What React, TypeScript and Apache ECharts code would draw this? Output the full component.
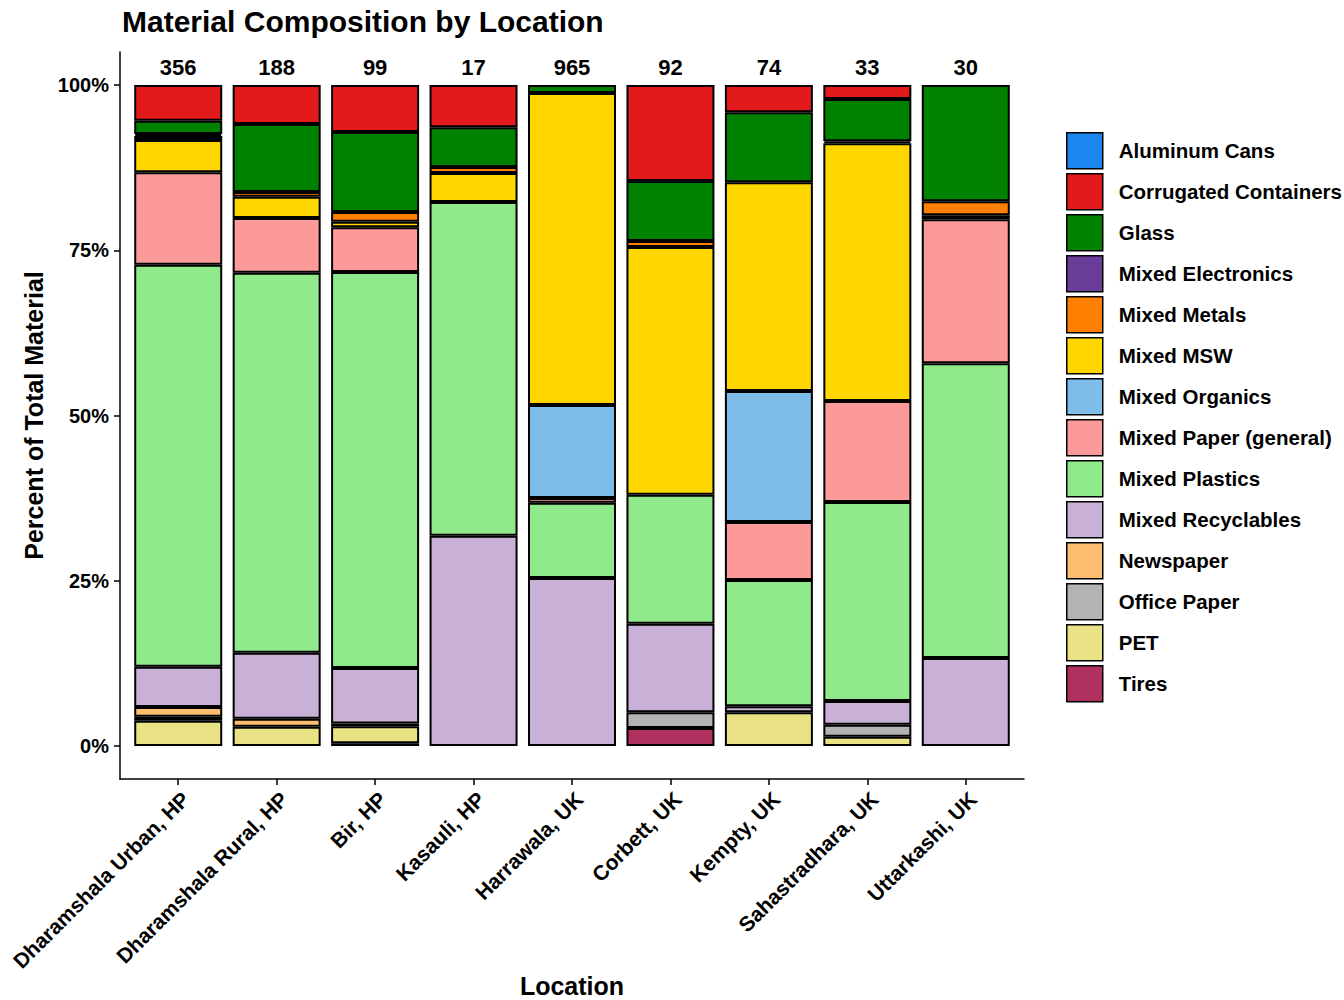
import React, { useEffect, useRef } from "react";
import * as echarts from "echarts";

const locations = [
  "Dharamshala Urban, HP",
  "Dharamshala Rural, HP",
  "Bir, HP",
  "Kasauli, HP",
  "Harrawala, UK",
  "Corbett, UK",
  "Kempty, UK",
  "Sahastradhara, UK",
  "Uttarkashi, UK",
];
const counts = [356, 188, 99, 17, 965, 92, 74, 33, 30];
const yTicks = [0, 25, 50, 75, 100];

// percent of total material per location (same order as locations)
const aluminumCans = [0, 0, 0, 0, 0, 0, 0, 0, 0];
const corrugatedContainers = [5.4, 5.9, 7.1, 6.4, 0, 14.5, 4.1, 2.1, 0];
const glass = [2.0, 10.3, 12.1, 6.0, 1.2, 9.1, 10.6, 6.4, 17.6];
const mixedElectronics = [0.3, 0, 0, 0, 0, 0, 0, 0, 0];
const mixedMetals = [0.6, 0.7, 1.5, 0.9, 0, 0.9, 0, 0.3, 2.1];
const mixedMSW = [4.9, 3.2, 0.8, 4.4, 47.2, 37.5, 31.6, 39.0, 0.6];
const mixedOrganics = [0, 0, 0, 0, 14.1, 0, 19.8, 0, 0];
const mixedPaper = [14.0, 8.3, 6.8, 0, 0.7, 0, 8.8, 15.3, 21.8];
const mixedPlastics = [60.8, 57.5, 59.9, 50.5, 11.4, 19.5, 19.1, 30.1, 44.6];
const mixedRecyclables = [6.1, 10.0, 8.4, 31.8, 25.4, 13.4, 0.9, 3.6, 13.3];
const newspaper = [1.5, 1.2, 0, 0, 0, 0, 0, 0, 0];
const officePaper = [0.6, 0, 0.4, 0, 0, 2.4, 0, 1.8, 0];
const pet = [3.8, 2.9, 2.6, 0, 0, 0, 5.1, 1.4, 0];
const tires = [0, 0, 0.4, 0, 0, 2.7, 0, 0, 0];

const materials = [
  { name: "Aluminum Cans", values: aluminumCans, color: "#1C86EE" },
  { name: "Corrugated Containers", values: corrugatedContainers, color: "#E31A1C" },
  { name: "Glass", values: glass, color: "#008200" },
  { name: "Mixed Electronics", values: mixedElectronics, color: "#6A3D9A" },
  { name: "Mixed Metals", values: mixedMetals, color: "#FF7F00" },
  { name: "Mixed MSW", values: mixedMSW, color: "#FFD700" },
  { name: "Mixed Organics", values: mixedOrganics, color: "#7EBCE9" },
  { name: "Mixed Paper (general)", values: mixedPaper, color: "#FB9A99" },
  { name: "Mixed Plastics", values: mixedPlastics, color: "#90EA8C" },
  { name: "Mixed Recyclables", values: mixedRecyclables, color: "#C8B0D6" },
  { name: "Newspaper", values: newspaper, color: "#FDBF6F" },
  { name: "Office Paper", values: officePaper, color: "#B3B3B3" },
  { name: "PET", values: pet, color: "#EAE385" },
  { name: "Tires", values: tires, color: "#B03060" },
];

const FONT = "'Liberation Sans', Arial, Helvetica, sans-serif";

export default function App() {
  const ref = useRef<HTMLDivElement>(null);
  useEffect(() => {
    if (!ref.current) return;
    const chart = echarts.init(ref.current, null, { renderer: "svg" });
    const barSeries = [...materials].reverse().map((m) => ({
      name: m.name,
      type: "bar",
      stack: "total",
      xAxisIndex: 1,
      yAxisIndex: 1,
      barWidth: 88,
      itemStyle: { color: m.color, borderColor: "#000", borderWidth: 2 },
      data: m.values.map((v) => (v === 0 ? "-" : v)),
    }));
    const option: any = {
      animation: false,
      backgroundColor: "#fff",
      textStyle: { fontFamily: FONT },
      title: {
        text: "Material Composition by Location",
        left: 117,
        top: 1,
        textStyle: { fontFamily: FONT, fontWeight: "bold", fontSize: 30, color: "#000" },
      },
      legend: {
        orient: "vertical",
        left: 1066,
        top: 132,
        padding: 0,
        itemWidth: 36,
        itemHeight: 36,
        itemGap: 3.5,
        icon: "rect",
        data: materials.map((m) => m.name),
        itemStyle: { borderColor: "#000", borderWidth: 1.5 },
        textStyle: { fontFamily: FONT, fontWeight: "bold", fontSize: 20.5, color: "#000", padding: [0, 0, 0, 11] },
      },
      grid: [
        { left: 120, right: 320, top: 52, bottom: 221, containLabel: false, outerBoundsMode: "none" },
        { left: 129, right: 329, top: 52, bottom: 221, containLabel: false, outerBoundsMode: "none" },
      ],
      xAxis: [
        {
          type: "value",
          gridIndex: 0,
          min: 0,
          max: 1,
          name: "Location",
          nameLocation: "middle",
          nameGap: 194,
          nameMoveOverlap: false,
          nameTextStyle: { fontFamily: FONT, fontWeight: "bold", fontSize: 25, color: "#000" },
          axisLine: { show: true, onZero: false, lineStyle: { color: "#000", width: 1.5 } },
          axisTick: { show: false },
          axisLabel: { show: false },
          splitLine: { show: false },
        },
        {
          type: "category",
          gridIndex: 1,
          data: locations,
          axisLine: { show: false, onZero: false },
          axisTick: { show: true, alignWithLabel: true, length: 6, lineStyle: { color: "#000", width: 1.5 } },
          axisLabel: {
            interval: 0,
            rotate: 45,
            margin: 9,
            verticalAlign: "top",
            fontFamily: FONT,
            fontWeight: "bold",
            fontSize: 21,
            color: "#000",
          },
          splitLine: { show: false },
        },
      ],
      yAxis: [
        {
          type: "value",
          gridIndex: 0,
          min: -5,
          max: 105,
          name: "Percent of Total Material",
          nameLocation: "middle",
          nameGap: 74,
          nameTextStyle: { fontFamily: FONT, fontWeight: "bold", fontSize: 25, color: "#000" },
          axisLine: { show: true, onZero: false, lineStyle: { color: "#000", width: 1.5 } },
          axisTick: { show: true, length: 6, customValues: yTicks, lineStyle: { color: "#000", width: 1.5 } },
          axisLabel: {
            customValues: yTicks,
            formatter: (v: number) => `${v}%`,
            margin: 11,
            fontFamily: FONT,
            fontWeight: "bold",
            fontSize: 20,
            color: "#000",
          },
          splitLine: { show: false },
        },
        {
          type: "value",
          gridIndex: 1,
          min: -5,
          max: 105,
          show: false,
          splitLine: { show: false },
        },
      ],
      series: [
        ...barSeries,
        {
          name: "counts",
          type: "scatter",
          xAxisIndex: 1,
          yAxisIndex: 1,
          symbolSize: 0,
          silent: true,
          itemStyle: { opacity: 1 },
          data: counts.map(() => 102.6),
          label: {
            show: true,
            position: "inside",
            formatter: (p: any) => String(counts[p.dataIndex]),
            fontFamily: FONT,
            fontWeight: "bold",
            fontSize: 22,
            color: "#000",
            opacity: 1,
          },
        },
      ],
    };
    chart.setOption(option);
    return () => chart.dispose();
  }, []);
  return (
    <div
      ref={ref}
      style={{ position: "fixed", left: 0, top: 0, width: 1344, height: 1000, background: "#fff" }}
    />
  );
}
